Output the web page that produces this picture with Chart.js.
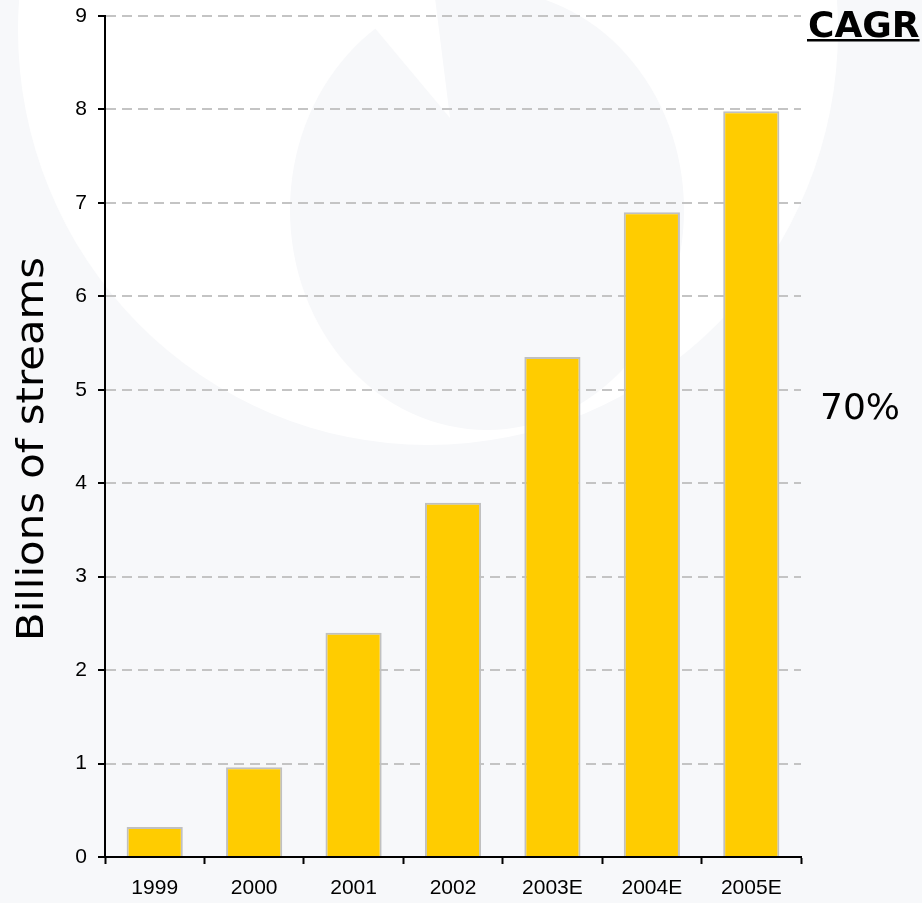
<!DOCTYPE html>
<html>
<head>
<meta charset="utf-8">
<script src="https://cdn.jsdelivr.net/npm/chart.js@4.4.0/dist/chart.umd.min.js"></script>
<style>
  html, body { margin: 0; padding: 0; background: #f7f8fa; }
  #wrap { width: 922px; height: 903px; position: relative; }
  canvas { display: block; }
</style>
</head>
<body>
<div id="wrap"><canvas id="c" width="922" height="903"></canvas></div>
<script>
const categories = ['1999', '2000', '2001', '2002', '2003E', '2004E', '2005E'];
const streams = [0.32, 0.96, 2.40, 3.79, 5.35, 6.90, 7.98];
const yMin = 0, yMax = 9, yStep = 1;
const yTitle = 'Billions of streams';
const cagrLabel = 'CAGR';
const cagrValue = '70%';

const backgroundPlugin = {
  id: 'bgShapes',
  beforeDraw(chart) {
    const ctx = chart.ctx;
    ctx.save();
    ctx.fillStyle = '#f7f8fa';
    ctx.fillRect(0, 0, chart.width, chart.height);
    ctx.fillStyle = '#ffffff';
    ctx.beginPath();
    ctx.ellipse(428, 30, 410, 415, 0, 0, Math.PI * 2);
    ctx.fill();
    ctx.fillStyle = '#f7f8fa';
    ctx.beginPath();
    ctx.ellipse(487, 210, 197, 220, 0, 0, Math.PI * 2);
    ctx.fill();
    ctx.fillStyle = '#ffffff';
    ctx.beginPath();
    ctx.moveTo(450, 118);
    ctx.lineTo(343, -10);
    ctx.lineTo(434, -10);
    ctx.closePath();
    ctx.fill();
    ctx.restore();
  }
};

const textPlugin = {
  id: 'annotations',
  afterDraw(chart) {
    const ctx = chart.ctx;
    const area = chart.chartArea;
    ctx.save();
    ctx.fillStyle = '#000';
    ctx.font = '38px "DejaVu Sans"';
    ctx.translate(43, 449);
    ctx.rotate(-Math.PI / 2);
    ctx.scale(1.1, 1);
    ctx.textAlign = 'center';
    ctx.textBaseline = 'alphabetic';
    ctx.fillText(yTitle, 0, 0);
    ctx.restore();

    ctx.save();
    ctx.fillStyle = '#000';
    ctx.font = 'bold 36px "DejaVu Sans"';
    ctx.textAlign = 'left';
    ctx.textBaseline = 'alphabetic';
    const cx = area.right + 7;
    ctx.fillText(cagrLabel, cx, 37);
    const w = ctx.measureText(cagrLabel).width;
    ctx.fillRect(cx - 1, 39, w + 1, 2.5);

    ctx.font = '36px "DejaVu Sans"';
    ctx.textAlign = 'center';
    ctx.fillText(cagrValue, area.right + 59, 419);
    ctx.restore();
  }
};

new Chart(document.getElementById('c'), {
  type: 'bar',
  data: {
    labels: categories,
    datasets: [{
      data: streams,
      backgroundColor: '#ffcc00',
      borderColor: '#c0c0c0',
      borderWidth: 2,
      borderSkipped: 'start',
      categoryPercentage: 1.0,
      barPercentage: 0.565
    }]
  },
  options: {
    responsive: false,
    animation: false,
    devicePixelRatio: 1,
    layout: { padding: { top: 16, right: 121, bottom: 0, left: 0 } },
    plugins: { legend: { display: false }, tooltip: { enabled: false }, title: { display: false } },
    scales: {
      x: {
        offset: true,
        grid: {
          offset: true,
          drawOnChartArea: false,
          drawTicks: true,
          tickLength: 7,
          tickWidth: 2,
          tickColor: '#000'
        },
        border: { display: true, color: '#000', width: 2 },
        ticks: {
          color: '#000',
          font: { family: '"Liberation Sans", Arial', size: 21 },
          padding: 12,
          maxRotation: 0
        },
        afterFit(scale) { scale.height = 46; scale.paddingLeft = 0; scale.paddingRight = 0; }
      },
      y: {
        min: yMin,
        max: yMax,
        grid: {
          color: '#c4c4c4',
          lineWidth: 2,
          drawTicks: true,
          tickLength: 7,
          tickWidth: 2,
          tickColor: '#000',
          tickBorderDash: []
        },
        border: { display: true, color: '#000', width: 2, dash: [10, 6] },
        ticks: {
          stepSize: yStep,
          color: '#000',
          font: { family: '"Liberation Sans", Arial', size: 21 },
          padding: 11
        },
        afterFit(scale) { scale.width = 105; scale.paddingTop = 0; scale.paddingBottom = 0; }
      }
    }
  },
  plugins: [backgroundPlugin, textPlugin]
});
</script>
</body>
</html>
